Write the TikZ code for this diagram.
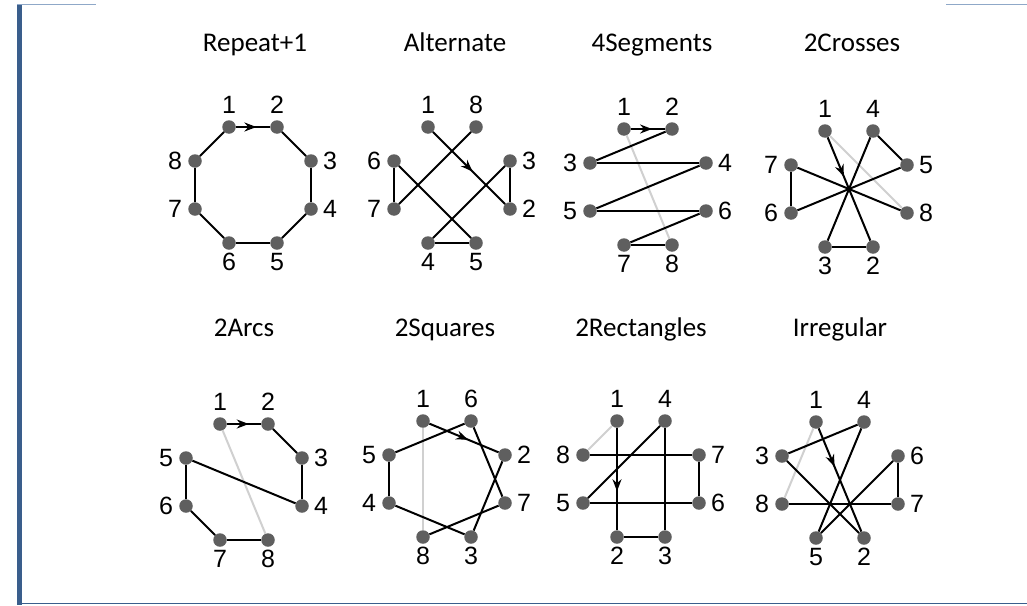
\documentclass[tikz,border=0pt]{standalone}
\usepackage{fontspec}
\setmainfont{Liberation Sans}
\newfontfamily\titlefont{Carlito}
\usetikzlibrary{arrows.meta,decorations.markings}
\definecolor{barblue}{RGB}{58,94,140}
\definecolor{lineblue}{RGB}{143,168,200}
\definecolor{dotgray}{RGB}{95,95,95}
\definecolor{ghostgray}{RGB}{208,208,208}
\newcommand\octnodes[4]{%
  \foreach \lab [count=\i] in {#4} {%
    \pgfmathsetmacro\dx{{-24,24,58,58,24,-24,-58,-58}[\i-1]}%
    \pgfmathsetmacro\dy{{-58,-58,-24,24,58,58,24,-24}[\i-1]}%
    \pgfmathsetmacro\lx{{0,0,19,19,0,0,-20,-20}[\i-1]}%
    \pgfmathsetmacro\ly{{-22,-22,0,0,19,19,0,0}[\i-1]}%
    \node[dot] (#1\lab) at (#2+\dx,#3+\dy) {};
    \node[lab] (#1l\lab) at (#2+\dx+\lx,#3+\dy+\ly) {\lab};
  }%
}
\newcommand\chainedges[2]{%
  \draw[edge,arr=#2] (#11) -- (#12);
  \foreach \a/\b in {2/3,3/4,4/5,5/6,6/7,7/8} {\draw[edge] (#1\a) -- (#1\b);}
}
\begin{document}
\begin{tikzpicture}[x=1pt,y=-1pt,
  dot/.style={circle,fill=dotgray,inner sep=0pt,minimum size=13.5pt},
  lab/.style={font=\fontsize{25}{25}\selectfont,inner sep=0pt},
  edge/.style={line width=2pt,black},
  ghost/.style={line width=2pt,ghostgray},
  arr/.style={postaction={decorate},decoration={markings,mark=at position #1 with {\arrow{Stealth[length=12pt,width=9pt]}}}},
  ttl/.style={font=\titlefont\fontsize{27}{27}\selectfont,anchor=base,inner sep=0pt}]
\useasboundingbox (0,0) rectangle (1027,605);
\fill[white] (0,0) rectangle (1027,605);
% frame
\fill[barblue] (17,4) rectangle (22,605);
\draw[lineblue,line width=1.2pt] (17,4.5) -- (96,4.5);
\draw[lineblue,line width=1.2pt] (946,4.5) -- (1027,4.5);
\draw[barblue,line width=1.6pt] (17,603.5) -- (1027,603.5);
% titles
\node[ttl] (t1) at (255,51) {Repeat+1};
\node[ttl] (t2) at (455,51) {Alternate};
\node[ttl] (t3) at (652,51) {4Segments};
\node[ttl] (t4) at (852,51) {2Crosses};
\node[ttl] (t5) at (244,336) {2Arcs};
\node[ttl] (t6) at (445,336) {2Squares};
\node[ttl] (t7) at (641,336) {2Rectangles};
\node[ttl] (t8) at (840,336) {Irregular};
% nodes
\octnodes{A}{253}{185}{1,2,3,4,5,6,7,8}
\octnodes{B}{452}{185}{1,8,3,2,5,4,7,6}
\octnodes{C}{648}{187}{1,2,4,6,8,7,5,3}
\octnodes{D}{849}{189}{1,4,5,8,2,3,6,7}
\octnodes{E}{244}{482}{1,2,3,4,8,7,6,5}
\octnodes{F}{447}{479}{1,6,2,7,3,8,4,5}
\octnodes{G}{641}{479}{1,4,7,6,3,2,5,8}
\octnodes{H}{840}{480}{1,4,6,7,2,5,8,3}
% closing (grey) edges first
\draw[ghost] (C8) -- (C1);
\draw[ghost] (D8) -- (D1);
\draw[ghost] (E8) -- (E1);
\draw[ghost] (F8) -- (F1);
\draw[ghost] (G8) -- (G1);
\draw[ghost] (H8) -- (H1);
% chains
\chainedges{A}{0.6}
\draw[edge] (A8) -- (A1);
\chainedges{B}{0.55}
\chainedges{C}{0.62}
\chainedges{D}{0.38}
\chainedges{E}{0.64}
\chainedges{F}{0.56}
\chainedges{G}{0.62}
\chainedges{H}{0.37}
\end{tikzpicture}
\end{document}
